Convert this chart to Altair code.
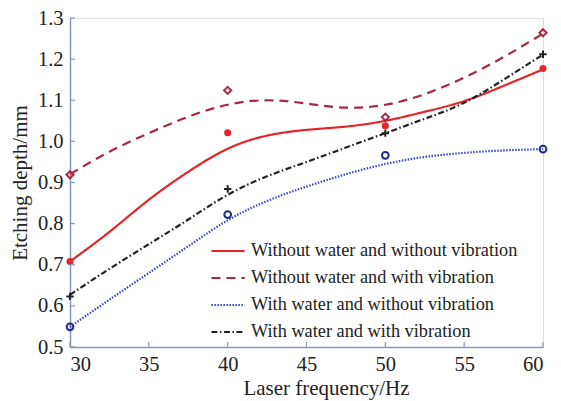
import altair as alt
import pandas as pd

# ---- data ----
series_names = [
    "Without water and without vibration",
    "Without water and with vibration",
    "With water and without vibration",
    "With water and with vibration",
]
freq = [30, 40, 50, 60]
pts_nwnv = [0.708, 1.021, 1.038, 1.177]
pts_nwv = [0.919, 1.124, 1.059, 1.264]
pts_wnv = [0.549, 0.822, 0.966, 0.981]
pts_wv = [0.623, 0.884, 1.020, 1.212]

curve_x = [30, 32.5, 35, 37.5, 40, 42.5, 45, 47.5, 50, 52.5, 55, 57.5, 60]
fit_nwnv = [0.708, 0.780, 0.858, 0.926, 0.982, 1.014, 1.028, 1.036, 1.050, 1.072, 1.098, 1.135, 1.175]
fit_nwv = [0.920, 0.975, 1.020, 1.060, 1.089, 1.100, 1.092, 1.082, 1.089, 1.115, 1.155, 1.205, 1.262]
fit_wnv = [0.549, 0.615, 0.680, 0.745, 0.808, 0.855, 0.890, 0.920, 0.945, 0.962, 0.972, 0.978, 0.981]
fit_wv = [0.627, 0.690, 0.750, 0.810, 0.870, 0.915, 0.950, 0.985, 1.020, 1.055, 1.094, 1.150, 1.211]

x_ticks = [30, 35, 40, 45, 50, 55, 60]
y_ticks = [0.5, 0.6, 0.7, 0.8, 0.9, 1.0, 1.1, 1.2, 1.3]

line_colors = ["#e3262b", "#a8283f", "#3346c8", "#222222"]
marker_colors = ["#e3262b", "#a8283f", "#1f2a90", "#222222"]
dashes = [[1, 0], [9, 6], [1.5, 1.5], [6, 2.5, 1.5, 2.5]]

W, H = 473, 329
FONT = "Times New Roman, Liberation Serif, serif"
AXC = "#8597c2"

fits = [fit_nwnv, fit_nwv, fit_wnv, fit_wv]
pts = [pts_nwnv, pts_nwv, pts_wnv, pts_wv]

curve_df = pd.DataFrame(
    [{"x": x, "y": v, "s": s} for s, f in zip(series_names, fits) for x, v in zip(curve_x, f)]
)

xs = alt.Scale(domain=[30, 60], nice=False)
ys = alt.Scale(domain=[0.5, 1.3], nice=False)

leg = alt.Legend(title=None, orient="none", legendX=140, legendY=215,
                 labelFont=FONT, labelFontSize=18.3, labelColor="#222",
                 symbolType="stroke", symbolSize=1100, symbolStrokeWidth=2.2,
                 rowPadding=0, labelOffset=5, labelLimit=400)

lines = alt.Chart(curve_df).mark_line(interpolate="natural", strokeWidth=2.2).encode(
    x=alt.X("x:Q", scale=xs, axis=alt.Axis(
        values=x_ticks, ticks=False, grid=False, domainColor=AXC, domainWidth=1.5,
        labelFont=FONT, labelFontSize=20.5, labelColor="#222", labelPadding=7,
        title="Laser frequency/Hz", titleFont=FONT, titleFontSize=21, titleFontWeight="normal",
        titleColor="#222", titleX=256, titleY=47, titleBaseline="alphabetic")),
    y=alt.Y("y:Q", scale=ys, axis=alt.Axis(
        values=y_ticks, format=".1f", ticks=False, grid=False, domainColor=AXC, domainWidth=1.5,
        labelFont=FONT, labelFontSize=20.5, labelColor="#222", labelPadding=7,
        title="Etching depth/mm", titleFont=FONT, titleFontSize=21, titleFontWeight="normal",
        titleColor="#222", titlePadding=7)),
    color=alt.Color("s:N", scale=alt.Scale(domain=series_names, range=line_colors), legend=leg),
    strokeDash=alt.StrokeDash("s:N", scale=alt.Scale(domain=series_names, range=dashes), legend=leg),
    detail="s:N",
)

layers = [lines]
shapes = ["circle", "diamond", "circle", "M-1,0L1,0M0,-1L0,1"]
filled = [True, False, False, False]
sizes = [50, 50, 45, 55]
for name, p, c, shp, fl, sz in zip(series_names, pts, marker_colors, shapes, filled, sizes):
    df = pd.DataFrame({"x": freq, "y": p})
    if fl:
        mk = alt.Chart(df).mark_point(shape=shp, filled=True, color=c, size=sz, opacity=1)
    else:
        mk = alt.Chart(df).mark_point(shape=shp, filled=False, color=c, size=sz, strokeWidth=2, opacity=1)
    layers.append(mk.encode(x=alt.X("x:Q", scale=xs), y=alt.Y("y:Q", scale=ys)))

xt = alt.Chart(pd.DataFrame({"t": x_ticks})).mark_rule(color=AXC, strokeWidth=1.2).encode(
    x=alt.X("t:Q", scale=xs), y=alt.value(H), y2=alt.value(H - 5))
yt = alt.Chart(pd.DataFrame({"t": y_ticks})).mark_rule(color=AXC, strokeWidth=1.2).encode(
    y=alt.Y("t:Q", scale=ys), x=alt.value(0), x2=alt.value(5))
layers += [xt, yt]

chart = alt.layer(*layers).properties(
    width=W, height=H,
    autosize=alt.AutoSizeParams(type="none"),
    padding={"left": 62, "top": 10, "right": 10, "bottom": 55},
).configure_view(stroke=None).configure(background="white")

chart.save("out.html", embed_options={"renderer": "svg", "actions": False})
